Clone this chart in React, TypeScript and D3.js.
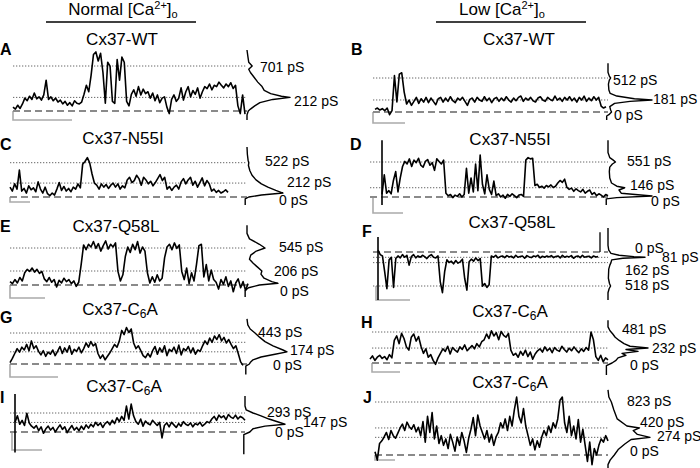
import React from 'react';
import * as d3 from 'd3';

// ---------- DATA (conductance in pS) ----------
const traceA = [60,30,90,40,110, 200,160,230,180,280,190,220,170,250, 480, 180,220,160,200,140,170,
  110,150,90,130,80,160,120,110,140, 260,400,300, 560,880,920,780,900, 600,120, 760,700, 150,120,
  800,480,840,760, 150,80, 260,330,230,380,250,340,270,300,200, 280,160,250,130,200,220, 60,-40,180,250,
  150,200,360,170,300,380,220,320,260,360,200, 300,380,350,420,330,400,380,450,400,360,420,380,440,350,400,
  80,-40,250,-50];
const traceB = [40,60,30,50,20,60, -40,20, 550,150,570,590, 300,120,180,
  100,160,220,130,200,150,220,140,210,160,110,200,220,150,210,160,230,170,140,210,180,220,160,100,190,210,
  150,220,180,160,230,170,210,140,200,220,160,210,170,230,180,150,210,170,220,240,160,210,180,220,170,150,
  210,230,180,160,220,190,170,240,180,210,160,220,180,230,170,210,150,220,180,240,160,210,170,230,180,220,
  90,60,80];
const traceC = [150,90,200,120, 410, 90,130,60,170,110,140,80,230,120,60,150, 50,20,60,30,
  120,220,100,160,90,130,80,150,120,200,140, 500,540,600,520, 350,212,
  180,120,200,150,190,130,180,210,150,200,120,170,140, 260,300,220,250,330,280,180,300,260,200,240,170,220,
  280,340,250,300, 120,160,100,150,180,120, 230,280,200,260,300,180,240,150,220,290,170,250,200,
  90,120,70,100,60,80,110,70];
const traceD = [40,350,60,100,50,260,400,80, 300,480,
  560,520,600,480,580,540,610,500,470,560,590,500,540,420,600,560,520,580,
  60,20,40,-10,30,10,50,0,40, 450,60,300,80,520,100,660,200,50,350,120,40,250,20,50,
  0,30,-20,40,10,50,20,-10,30,40,10, 580,620,600,610, 180,200,150,170,140,180,160,190,150,170,
  220,260,230,280, 150,120,140,90,130,100,80,120,60,90,110, 40,70,20,50,30,0,40,20];
const traceE = [50,20,80,30,110,60, 180,230,200,250,190,230,170,200,
  90,50,110,40,80,-30,70,30,100,50,80,20,60,-20,40, 300,590,
  520,600,560,640,540,610,500,580,650,530,600,560,620, 200,60, 150,420,
  560,480,600,520,640,470,560,500, 180,30, 120,40,150,60,100, 400, 560,600,520,620,540,590, 200,
  80,250,20,180,60,300, 580,600, 120,300,60,220,80,
  40,-60,80,10,120,-20,60,-100,30,90,-40,50,-80,20];
const traceF = [-30,40,60, 300,560,120, 80,540,100,
  60,90,40,80,50,200,70,40,90,60,80,50,70,100,60,40,80,90,60, 450,620,300,
  120,160,140,180,130,170,150,110, 400,580, 150,110,140,90,130,100, 520,480,540,500,
  60,80,50,90,70,60,85,55,75,65,90,50,80,70,60,95,55,75,85,60,70,50,90,65,80,60,75,55,85,70,60,90,50,80,
  65,75,55,95,70,60,85,50,80,70,65,90,60,75,70];
const traceG = [20,80, 150,220,170,240, 200,280,190,330,220,260,180, 130,190,110,170,140,200,120,
  180,250,150,230,170,260,140,210,180,240,160, 220,300,240,320,260,290, 150,80,130,60,110,160,
  220,280,240,330, 480,420,520,450,500, 300,220,260,190, 120,90,150,100,
  190,250,140,230,170,260,120,210,180,240,150,270,130,220,190,250,160,230,140,200,180,
  260,330,280,370,310,400,350,420,330,380,300,350,280, 220,260,150, 30,-20];
const traceH = [60,110,40,90,120,70,100,50,130,80, 350,420,300,460,380,250,200,400,450,340,410,
  260,150,220,90,130,40,-20,80, 150,220,180,260,140,240,200,170,250,210,280,190,230,270,220,300,250,330,360,
  450,380,500,420,470,360,490,430,400,460, 200,120, 150,90,180,120,200,100,170,60,140,190,
  220,170,250,190,230,160,240,200,180,260,210,170,230,190,250,200,160,220,180,240,200, 480,360,
  100,40,120,20,80,50];
const traceI = [150,250,120,180, 100,290,140,90,
  60,100,20,80,-20,50,90,30,70,0,60,110,40,80,-10,50,100,30,70,20,90,40,110,60,
  120,80,150,100,140,70,130,160,110, 180,130,220,160, 240,180,400,200,430,250,
  160,120,200,90,170,130,110,180,140,100,150, -90,
  100,140,80,150,110,70,130,90,160,120,100,140,80,130,110,150,90,120,160,140,
  200,240,180,260,220,250,190,270,230,210,260,200,240,220,180];
const traceJ = [50,-80, 180,220, 280,350,240,380,300,260,340, 420,480,380,510,440,400,470,360,430,
  300,520,200,600,350,660,250,450,180, 300,150,250,100,320,200,60,280,150,350,220,40,260,
  400,580,300,620,450,350, 250,380,200,320,150,280, 350,500,420,560,380,600,450,700,900,
  600,500,720,450, 300,150,250,80,220,120,280, 380,300,450,350,500,420,560, 850,900,
  500,350,600,300,450,250,550,200,400, 150,-100,200,-150,100,0,150, 250,200,300,220];

// histograms: [conductance pS, relative count]
const histA: [number, number][] = [[950,0],[850,2],[760,4],[701,12],[650,4],[600,8],[530,16],[450,25],[380,35],[320,40],[270,55],[230,80],[212,100],[180,60],[130,30],[80,18],[30,8],[0,3],[-60,0],[-140,0]];
const histB: [number, number][] = [[735,0],[600,0],[540,3],[512,6],[480,3],[420,1],[330,2],[280,5],[240,20],[200,60],[181,100],[160,50],[130,15],[80,4],[30,6],[0,8],[-40,2],[-60,-3],[-120,-3]];
const histC: [number, number][] = [[760,0],[650,1],[560,3],[522,5],[480,4],[400,8],[330,14],[260,25],[200,40],[150,58],[100,80],[60,100],[30,40],[0,5],[-30,-5],[-60,-5],[-120,-5]];
const histD: [number, number][] = [[895,0],[700,0],[620,4],[580,12],[551,17],[520,10],[470,4],[400,3],[300,4],[220,8],[170,20],[146,38],[110,25],[60,30],[15,100],[-10,20],[-30,-4],[-60,-4],[-125,-4]];
const histE: [number, number][] = [[880,0],[760,0],[680,8],[600,40],[545,58],[500,30],[440,12],[380,8],[320,20],[260,35],[206,48],[160,45],[100,55],[50,80],[25,100],[0,40],[-40,5],[-80,-6],[-175,-6]];
const histF: [number, number][] = [[-365,0],[-100,0],[-30,2],[20,8],[50,30],[70,70],[81,100],[95,40],[120,10],[162,8],[200,5],[260,2],[400,1],[480,4],[518,7],[560,3],[620,0],[730,0]];
const histG: [number, number][] = [[645,0],[560,2],[500,8],[443,20],[380,32],[320,45],[260,65],[200,90],[174,100],[140,70],[100,35],[60,15],[20,8],[0,6],[-30,-3],[-60,-3],[-150,-3]];
const histH: [number, number][] = [[665,0],[560,0],[500,5],[450,12],[400,18],[350,28],[300,40],[260,55],[232,100],[210,45],[180,75],[150,35],[120,45],[80,25],[40,20],[0,10],[-40,-4],[-80,-4],[-185,-4]];
const histI: [number, number][] = [[555,0],[400,0],[340,3],[293,20],[250,40],[200,60],[150,85],[120,100],[90,50],[50,20],[0,12],[-40,-3],[-80,-3],[-345,-3]];
const histJ: [number, number][] = [[1010,0],[900,2],[823,8],[700,14],[560,22],[450,45],[420,75],[380,60],[320,70],[274,100],[240,55],[170,40],[90,25],[0,15],[-80,5],[-150,0],[-200,0]];

// dotted conductance levels and labelled values
const levelsA = [701, 212]; const labelsA = [701, 212];
const levelsB = [512, 181]; const labelsB = [512, 181, 0];
const levelsC = [522, 212]; const labelsC = [522, 212, 0];
const levelsD = [551, 146]; const labelsD = [551, 146, 0];
const levelsE = [545, 206]; const labelsE = [545, 206, 0];
const levelsF = [81, 162, 518]; const labelsF = [0, 81, 162, 518];
const levelsG = [443, 310, 174]; const labelsG = [443, 174, 0];
const levelsH = [481, 232]; const labelsH = [481, 232, 0];
const levelsI = [293, 147]; const labelsI = [293, 147, 0];
const levelsJ = [823, 420, 274]; const labelsJ = [823, 420, 274, 0];

// transient artefacts (pS ranges) at trace start / end
const transD = [[-125, 895]];
const transF = [[-230, 730]];
const transFend = [[-300, 0]];
const transI = [[-315, 585]];

const panelLetters = ['A','B','C','D','E','F','G','H','I','J'];
const mutants = ['WT','WT','N55I','N55I','Q58L','Q58L','C6A','C6A','C6A','C6A'];
const headers = ['Normal', 'Low'];

// ---------- LAYOUT ----------
type Panel = {
  trace: number[]; hist: [number, number][]; levels: number[]; labels: number[];
  x0: number; x1: number; yZero: number; yTop: number; hx: number; hw: number; dotX: number;
  tx: number; ty: number; lx: number; ly: number;
  lab: [number, number][]; bar: [number, number, number, number];
  tStart?: number[][]; tEnd?: number[][];
};

const panels: Panel[] = [
  { trace: traceA, hist: histA, levels: levelsA, labels: labelsA, x0: 13, x1: 245, yZero: 111, yTop: 66, hx: 247, hw: 43, dotX: 13,
    tx: 122, ty: 45, lx: 0, ly: 55, lab: [[260, 72], [294, 106]], bar: [13, 111, 120, 72] },
  { trace: traceB, hist: histB, levels: levelsB, labels: labelsB, x0: 375, x1: 606, yZero: 112, yTop: 78, hx: 608, hw: 44, dotX: 373,
    tx: 519, ty: 45, lx: 351, ly: 55, lab: [[613, 85], [653, 104], [614, 120]], bar: [373, 112, 123, 405] },
  { trace: traceC, hist: histC, levels: levelsC, labels: labelsC, x0: 10, x1: 228, yZero: 197, yTop: 162.7, hx: 247, hw: 36, dotX: 10,
    tx: 123, ty: 144, lx: 0, ly: 150, lab: [[265, 166], [287, 187], [279, 205]], bar: [10, 197, 202, 30] },
  { trace: traceD, hist: histD, levels: levelsD, labels: labelsD, x0: 382, x1: 608, yZero: 197, yTop: 162, hx: 608, hw: 44, dotX: 370,
    tx: 510, ty: 145, lx: 350, ly: 150, lab: [[627, 166], [630, 190], [651, 206]], bar: [373, 197, 213, 403], tStart: transD },
  { trace: traceE, hist: histE, levels: levelsE, labels: labelsE, x0: 10, x1: 248, yZero: 285, yTop: 248, hx: 247, hw: 31, dotX: 10,
    tx: 116, ty: 232, lx: 0, ly: 232, lab: [[279, 252], [274, 276], [280, 296]], bar: [10, 285, 298, 45] },
  { trace: traceF, hist: histF, levels: levelsF, labels: labelsF, x0: 378, x1: 598, yZero: 252, yTop: 286, hx: 608, hw: 37, dotX: 373,
    tx: 512, ty: 228, lx: 362, ly: 237, lab: [[635, 253], [662, 262], [625, 275], [625, 290]], bar: [376, 286, 300, 410],
    tStart: transF, tEnd: transFend },
  { trace: traceG, hist: histG, levels: levelsG, labels: labelsG, x0: 10, x1: 243, yZero: 364, yTop: 333, hx: 247, hw: 40, dotX: 10,
    tx: 120, ty: 315, lx: 0, ly: 323, lab: [[258, 337], [290, 355], [273, 370]], bar: [10, 364, 377, 58] },
  { trace: traceH, hist: histH, levels: levelsH, labels: labelsH, x0: 370, x1: 608, yZero: 363, yTop: 332, hx: 608, hw: 40, dotX: 372,
    tx: 510, ty: 317, lx: 361, ly: 328, lab: [[622, 334], [652, 353], [630, 370]], bar: [372, 363, 372, 400] },
  { trace: traceI, hist: histI, levels: levelsI, labels: labelsI, x0: 15, x1: 245, yZero: 432, yTop: 413, hx: 245, hw: 40, dotX: 10,
    tx: 124, ty: 392, lx: 0, ly: 403, lab: [[267, 417], [303, 427], [275, 437]], bar: [12, 432, 450, 42], tStart: transI },
  { trace: traceJ, hist: histJ, levels: levelsJ, labels: labelsJ, x0: 375, x1: 608, yZero: 455, yTop: 402, hx: 608, hw: 42, dotX: 375,
    tx: 510, ty: 388, lx: 363, ly: 403, lab: [[627, 406], [640, 427], [657, 441], [630, 456]], bar: [375, 455, 460, 395] },
];

const FONT = "'Liberation Sans', Arial, sans-serif";

function PanelView({ p, i }: { p: Panel; i: number }) {
  const top = Math.max(...p.levels);
  const y = d3.scaleLinear().domain([0, top]).range([p.yZero, p.yTop]);
  const x = d3.scaleLinear().domain([0, p.trace.length - 1]).range([p.x0, p.x1]);
  const hxs = d3.scaleLinear().domain([0, 100]).range([p.hx, p.hx + p.hw]);
  const traceLine = d3.line<number>().x((_, k) => x(k)).y(v => y(v));
  const histLine = d3.line<[number, number]>().x(d => hxs(d[1])).y(d => y(d[0]));
  const m = mutants[i];
  return (
    <g>
      <path d={`M${p.bar[0]},${p.bar[1]}V${p.bar[2]}H${p.bar[3]}`} fill="none" stroke="#aaa" strokeWidth={1.6} />
      {p.levels.map((lv, k) => (
        <line key={k} x1={p.dotX} x2={p.hx} y1={y(lv)} y2={y(lv)} stroke="#666" strokeWidth={1} strokeDasharray="1.3,1.7" />
      ))}
      <line x1={p.dotX} x2={p.hx} y1={y(0)} y2={y(0)} stroke="#8a8a8a" strokeWidth={2} strokeDasharray="7,4" />
      <path d={traceLine(p.trace) || ''} fill="none" stroke="#000" strokeWidth={1.6} strokeLinejoin="round" />
      {(p.tStart || []).map((r, k) => (
        <line key={'s' + k} x1={p.x0} x2={p.x0} y1={y(r[0])} y2={y(r[1])} stroke="#000" strokeWidth={1.6} />
      ))}
      {(p.tEnd || []).map((r, k) => (
        <line key={'e' + k} x1={p.x1 + 2} x2={p.x1 + 2} y1={y(r[0])} y2={y(r[1])} stroke="#000" strokeWidth={1.3} />
      ))}
      <path d={histLine(p.hist) || ''} fill="none" stroke="#000" strokeWidth={1.4} strokeLinejoin="round" />
      {p.labels.map((v, k) => (
        <text key={k} x={p.lab[k][0]} y={p.lab[k][1]} fontSize={14} fontFamily={FONT}>{`${v} pS`}</text>
      ))}
      <text x={p.tx} y={p.ty} fontSize={17} fontFamily={FONT} textAnchor="middle">
        {m === 'C6A' ? (<>Cx37-C<tspan fontSize={12} dy={3}>6</tspan><tspan dy={-3}>A</tspan></>) : `Cx37-${m}`}
      </text>
      <text x={p.lx} y={p.ly} fontSize={16} fontWeight="bold" fontFamily={FONT}>{panelLetters[i]}</text>
    </g>
  );
}

export default function App() {
  return (
    <svg width={700} height={468} style={{ position: 'absolute', left: 0, top: 0, background: '#fff' }}>
      <rect width={700} height={468} fill="#fff" />
      {[{ cx: 123, x1: 46, x2: 196 }, { cx: 502, x1: 436, x2: 586 }].map((h, k) => (
        <g key={k}>
          <text x={h.cx} y={15} fontSize={17} fontFamily={FONT} textAnchor="middle">
            {headers[k]} [Ca<tspan fontSize={11} dy={-6}>2+</tspan><tspan dy={6}>]</tspan><tspan fontSize={11} dy={3}>o</tspan>
          </text>
          <line x1={h.x1} x2={h.x2} y1={22} y2={22} stroke="#000" strokeWidth={1.3} />
        </g>
      ))}
      {panels.map((p, i) => <PanelView key={i} p={p} i={i} />)}
    </svg>
  );
}
